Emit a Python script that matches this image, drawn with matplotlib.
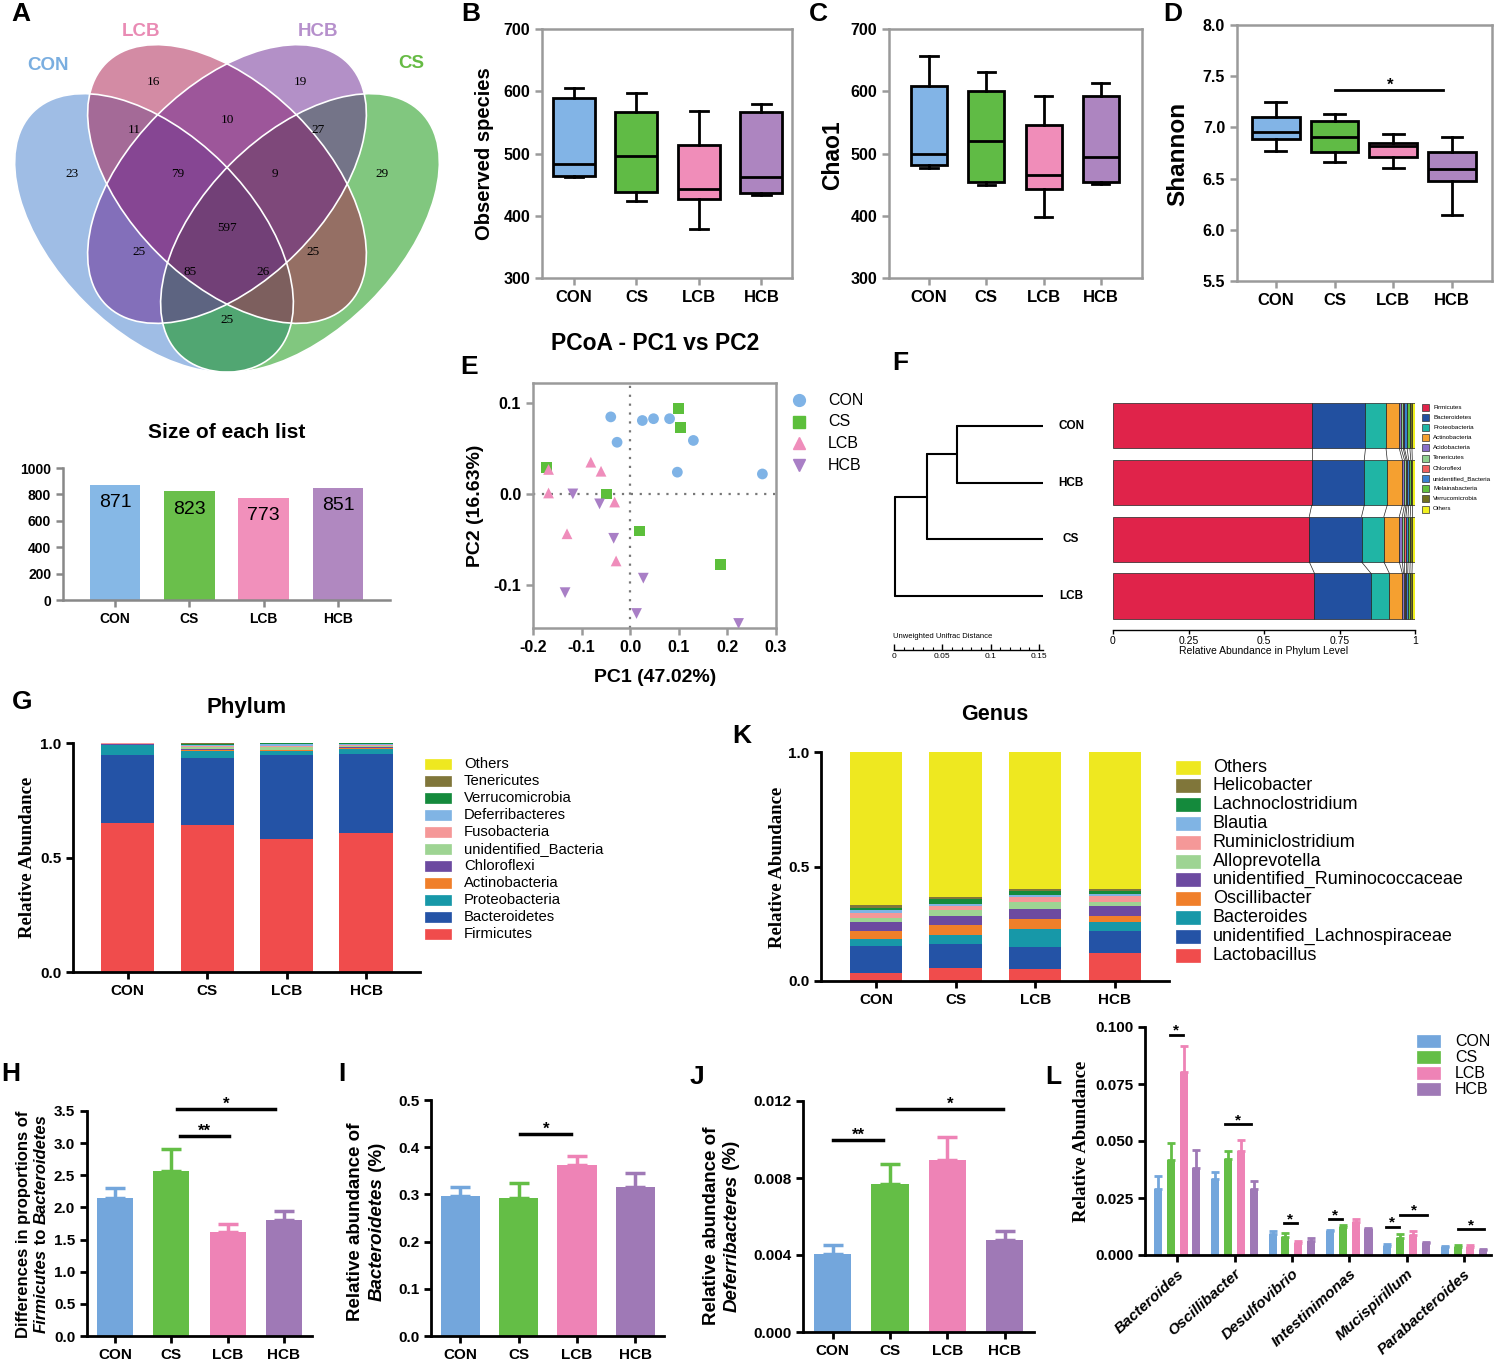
import matplotlib
matplotlib.use('Agg')
import matplotlib.pyplot as plt
from matplotlib.patches import Ellipse, Rectangle
from matplotlib.lines import Line2D
import numpy as np

plt.rcParams['font.family'] = ['Liberation Sans', 'DejaVu Sans']
plt.rcParams['font.weight'] = 'bold'
plt.rcParams['axes.unicode_minus'] = False

W, H = 1497, 1365
fig = plt.figure(figsize=(W / 100, H / 100), dpi=100)

# ---------------- data ----------------
groups = ['CON', 'CS', 'LCB', 'HCB']
grp_col = ['#73a6dc', '#64be46', '#ee83b6', '#9f79b6']
box_col = ['#82b4e6', '#60bb45', '#f08db9', '#ad85c0']
pt_col = ['#7fb3e6', '#5cbf3b', '#ef8dbb', '#a97fc6']

# A - venn
venn_names = ['CON', 'LCB', 'HCB', 'CS']
venn_name_col = ['#7aaee0', '#e98bb4', '#b690cc', '#66bb44']
venn_fill = ['#417dcd', '#a9194b', '#692391', '#059100']
venn_counts = [23, 16, 19, 29, 11, 10, 27, 79, 9, 597, 25, 25, 85, 26, 25]
venn_size = [871, 823, 773, 851]
venn_size_col = ['#86b8e6', '#6abf4b', '#f190bb', '#b088c0']

# B - observed species
obs_max = [606, 597, 569, 580]
obs_q3 = [589, 566, 513, 567]
obs_med = [483, 496, 443, 462]
obs_q1 = [464, 438, 427, 436]
obs_min = [462, 424, 379, 433]
# C - chao1
chao_max = [656, 631, 593, 614]
chao_q3 = [609, 601, 546, 593]
chao_med = [499, 520, 466, 494]
chao_q1 = [481, 455, 443, 455]
chao_min = [476, 449, 398, 451]
# D - shannon
sh_max = [7.245, 7.128, 6.939, 6.903]
sh_q3 = [7.105, 7.066, 6.851, 6.757]
sh_med = [6.952, 6.910, 6.818, 6.597]
sh_q1 = [6.883, 6.763, 6.708, 6.477]
sh_min = [6.766, 6.665, 6.607, 6.145]

# E - PCoA
pc_con_x = [-0.040, -0.027, 0.025, 0.048, 0.081, 0.130, 0.097, 0.272]
pc_con_y = [0.085, 0.057, 0.081, 0.083, 0.083, 0.059, 0.024, 0.022]
pc_cs_x = [0.099, 0.104, -0.173, -0.048, 0.019, 0.186]
pc_cs_y = [0.094, 0.073, 0.029, 0.000, -0.041, -0.078]
pc_lcb_x = [-0.168, -0.168, -0.081, -0.060, -0.032, -0.130, -0.029]
pc_lcb_y = [0.027, 0.001, 0.035, 0.025, -0.009, -0.044, -0.074]
pc_hcb_x = [-0.118, -0.063, -0.034, 0.027, -0.134, 0.013, 0.223]
pc_hcb_y = [0.000, -0.011, -0.049, -0.093, -0.109, -0.132, -0.143]

# F - UPGMA tree + phylum bars
tree_leaves = ['CON', 'HCB', 'CS', 'LCB']
tree_heights = [0.089, 0.120, 0.153]
f_phyla = ['Firmicutes', 'Bacteroidetes', 'Proteobacteria', 'Actinobacteria', 'Acidobacteria',
           'Tenericutes', 'Chloroflexi', 'unidentified_Bacteria', 'Melainabacteria',
           'Verrucomicrobia', 'Others']
f_col = ['#e0234a', '#2250a0', '#20b5a5', '#f5a030', '#8a70c8', '#90d090', '#f06060',
         '#3a80d0', '#60c040', '#707020', '#f0f020']
f_abund = [[0.658, 0.658, 0.650, 0.667],
           [0.178, 0.174, 0.173, 0.187],
           [0.068, 0.076, 0.074, 0.061],
           [0.044, 0.050, 0.051, 0.043],
           [0.006, 0.007, 0.010, 0.004],
           [0.007, 0.005, 0.007, 0.004],
           [0.004, 0.004, 0.005, 0.004],
           [0.009, 0.005, 0.007, 0.006],
           [0.009, 0.007, 0.007, 0.007],
           [0.007, 0.005, 0.007, 0.007],
           [0.010, 0.009, 0.009, 0.010]]

# G - phylum
phyla = ['Firmicutes', 'Bacteroidetes', 'Proteobacteria', 'Actinobacteria', 'Chloroflexi',
         'unidentified_Bacteria', 'Fusobacteria', 'Deferribacteres', 'Verrucomicrobia',
         'Tenericutes', 'Others']
phyla_col = ['#f04c4c', '#2453a6', '#1798a8', '#f07f2a', '#6c4aa0', '#9ed493', '#f59898',
             '#80b4e4', '#148a3c', '#80763a', '#eee820']
phyla_abund = [[0.649, 0.641, 0.580, 0.608],
               [0.300, 0.293, 0.368, 0.344],
               [0.041, 0.029, 0.018, 0.020],
               [0.003, 0.006, 0.003, 0.008],
               [0.001, 0.005, 0.002, 0.003],
               [0.001, 0.008, 0.012, 0.006],
               [0.004, 0.004, 0.003, 0.003],
               [0.0005, 0.007, 0.009, 0.005],
               [0.0005, 0.004, 0.003, 0.001],
               [0.000, 0.002, 0.001, 0.001],
               [0.000, 0.001, 0.001, 0.001]]

# K - genus
genera_k = ['Lactobacillus', 'unidentified_Lachnospiraceae', 'Bacteroides', 'Oscillibacter',
            'unidentified_Ruminococcaceae', 'Alloprevotella', 'Ruminiclostridium', 'Blautia',
            'Lachnoclostridium', 'Helicobacter', 'Others']
genus_abund = [[0.034, 0.057, 0.053, 0.123],
               [0.119, 0.105, 0.096, 0.096],
               [0.029, 0.041, 0.080, 0.039],
               [0.036, 0.041, 0.043, 0.027],
               [0.040, 0.041, 0.043, 0.042],
               [0.019, 0.024, 0.028, 0.020],
               [0.022, 0.018, 0.022, 0.025],
               [0.010, 0.009, 0.010, 0.008],
               [0.011, 0.020, 0.016, 0.013],
               [0.010, 0.009, 0.010, 0.007],
               [0.670, 0.635, 0.599, 0.600]]

# H, I, J
fb_mean = [2.15, 2.57, 1.62, 1.81]
fb_sem = [0.16, 0.34, 0.13, 0.14]
fb_sig = [(1.10, 2.84, 3.53, '*'), (1.15, 2.02, 3.11, '**')]
bact_mean = [0.297, 0.292, 0.362, 0.316]
bact_sem = [0.018, 0.033, 0.020, 0.029]
bact_sig = [(1.03, 1.90, 0.428, '*')]
defer_mean = [0.00405, 0.00770, 0.00892, 0.00476]
defer_sem = [0.00046, 0.00102, 0.00123, 0.00050]
defer_sig = [(0.0, 0.88, 0.00998, '**'), (1.12, 2.97, 0.01159, '*')]

# L - genus comparison
genera_l = ['Bacteroides', 'Oscillibacter', 'Desulfovibrio', 'Intestinimonas',
            'Mucispirillum', 'Parabacteroides']
l_con = [0.0288, 0.0332, 0.0092, 0.0104, 0.0041, 0.0035]
l_cs = [0.0417, 0.0420, 0.0081, 0.0124, 0.0073, 0.0037]
l_lcb = [0.0801, 0.0458, 0.0051, 0.0146, 0.0086, 0.0037]
l_hcb = [0.0381, 0.0288, 0.0063, 0.0114, 0.0051, 0.0022]
l_con_sem = [0.0059, 0.0034, 0.0015, 0.0006, 0.0007, 0.0006]
l_cs_sem = [0.0076, 0.0037, 0.0017, 0.0008, 0.0018, 0.0005]
l_lcb_sem = [0.0114, 0.0047, 0.0010, 0.0011, 0.0019, 0.0005]
l_hcb_sem = [0.0080, 0.0037, 0.0010, 0.0006, 0.0008, 0.0006]
l_sig = [(-0.13, 0.10, 0.0966), (0.84, 1.29, 0.0574), (1.86, 2.09, 0.0139),
         (2.64, 2.87, 0.0157), (3.64, 3.86, 0.0124), (3.89, 4.35, 0.0176),
         (4.89, 5.34, 0.0113)]


# ---------------- helpers ----------------
def fx(x):
    return x / W


def fy(y):
    return 1 - y / H


def px_axes(l, t, r, b):
    return fig.add_axes([l / W, 1 - b / H, (r - l) / W, (b - t) / H])


def letter(s, x, y):
    fig.text(fx(x), fy(y), s, fontsize=19, ha='center', va='center')


def style_grey(ax, fs=11):
    for s in ax.spines.values():
        s.set_color('#9a9a9a')
        s.set_linewidth(1.8)
    ax.tick_params(colors='#9a9a9a', labelcolor='black', width=1.8, length=5, labelsize=fs)


def style_black(ax, fs=11):
    ax.spines['top'].set_visible(False)
    ax.spines['right'].set_visible(False)
    ax.spines['left'].set_linewidth(2)
    ax.spines['bottom'].set_linewidth(2)
    ax.tick_params(width=2, length=5, labelsize=fs)


def box_legend(labels, colors, x_box, y0, dy, bw, bh, x_txt, fs, edge=None):
    for i, (lab, c) in enumerate(zip(labels, colors)):
        y = y0 + i * dy
        fig.add_artist(Rectangle((fx(x_box), fy(y + bh / 2)), bw / W, bh / H, facecolor=c,
                                 edgecolor=edge if edge else c, lw=0.5,
                                 transform=fig.transFigure))
        fig.text(fx(x_txt), fy(y), lab, fontsize=fs, fontweight='normal', va='center')


def rot_label(parts, x, yc, fs):
    r = fig.canvas.get_renderer()
    objs = []
    total = 0
    for s, style in parts:
        t = fig.text(fx(x), 0.5, s, rotation=90, fontsize=fs, style=style,
                     ha='center', va='bottom')
        h = t.get_window_extent(r).height
        objs.append((t, h))
        total += h
    y = yc + total / 2
    for t, h in objs:
        t.set_y(fy(y))
        y -= h


def boxpanel(ax, mx, q3, med, q1, mn, width, capw, ylim, yticks, fs):
    stats = [dict(med=med[i], q1=q1[i], q3=q3[i], whislo=mn[i], whishi=mx[i]) for i in range(4)]
    bp = ax.bxp(stats, positions=range(4), widths=width, capwidths=capw, patch_artist=True,
                showfliers=False, boxprops=dict(linewidth=2, edgecolor='black'),
                whiskerprops=dict(linewidth=2), capprops=dict(linewidth=2),
                medianprops=dict(color='black', linewidth=2))
    for b, c in zip(bp['boxes'], box_col):
        b.set_facecolor(c)
    ax.set_ylim(*ylim)
    ax.set_yticks(yticks)
    style_grey(ax, fs)
    ax.set_xticks(range(4))
    ax.set_xticklabels(groups, fontsize=12)


def errbars(ax, x, mean, sem, colors, width, capsize, lw):
    ax.bar(x, mean, width=width, color=colors)
    for xi, m, s, c in zip(x, mean, sem, colors):
        ax.errorbar(xi, m, yerr=[[0], [s]], fmt='none', ecolor=c, elinewidth=lw,
                    capsize=capsize, capthick=lw)


# ---------------- A: venn ----------------
ax = px_axes(0, 0, 460, 380)
ax.set_xlim(0, 460)
ax.set_ylim(380, 0)
ax.axis('off')
venn_geo = {'CON': (154, 233, 45), 'LCB': (227, 184, 45), 'HCB': (227, 184, 135),
            'CS': (300, 233, 135)}
ell_w, ell_h = 342, 196
for name in ['CON', 'CS', 'LCB', 'HCB']:
    cx, cy, ang = venn_geo[name]
    c = venn_fill[venn_names.index(name)]
    ax.add_patch(Ellipse((cx, cy), ell_w, ell_h, angle=ang, facecolor=c, alpha=0.5,
                         edgecolor='none'))
for name in venn_names:
    cx, cy, ang = venn_geo[name]
    ax.add_patch(Ellipse((cx, cy), ell_w, ell_h, angle=ang, facecolor='none',
                         edgecolor='white', lw=1.2))
venn_xy = [(72, 174), (153, 82), (300, 82), (382, 174), (134, 130), (227, 120), (318, 130),
           (178, 174), (275, 174), (227, 228), (139, 252), (313, 252), (190, 272), (263, 272),
           (227, 320)]
for n, (x, y) in zip(venn_counts, venn_xy):
    ax.text(x, y, str(n), ha='center', va='center', fontsize=9.5, fontweight='normal',
            family='Liberation Serif')
venn_lab_xy = [(48, 66), (141, 31), (318, 31), (411, 63)]
for name, c, (x, y) in zip(venn_names, venn_name_col, venn_lab_xy):
    ax.text(x, y, name, color=c, fontsize=13.5, ha='center', va='center')
letter('A', 21, 14)

# list sizes
ax = px_axes(63, 468, 390, 600)
ax.bar(range(4), venn_size, width=0.68, color=venn_size_col)
for i, v in enumerate(venn_size):
    ax.text(i, v - 70, str(v), ha='center', va='top', fontsize=14, fontweight='normal')
ax.set_xlim(-0.70, 3.70)
ax.set_ylim(0, 1000)
ax.set_yticks(range(0, 1001, 200))
ax.set_xticks(range(4))
ax.set_xticklabels(groups)
ax.spines['top'].set_visible(False)
ax.spines['right'].set_visible(False)
for s in ['left', 'bottom']:
    ax.spines[s].set_color('#888888')
    ax.spines[s].set_linewidth(1.8)
ax.tick_params(colors='#888888', labelcolor='black', width=1.8, length=5, labelsize=10)
fig.text(fx(227), fy(433), 'Size of each list', fontsize=15, ha='center', va='center')

# ---------------- B, C, D ----------------
ax = px_axes(542, 29, 792, 278)
boxpanel(ax, obs_max, obs_q3, obs_med, obs_q1, obs_min, 0.67, 0.3, (300, 700),
         range(300, 701, 100), 11.5)
ax.set_xlim(-0.51, 3.49)
fig.text(fx(485), fy(154), 'Observed species', rotation=90, fontsize=14.5, ha='center', va='center')
letter('B', 471, 14)

ax = px_axes(889, 29, 1142, 278)
boxpanel(ax, chao_max, chao_q3, chao_med, chao_q1, chao_min, 0.63, 0.3, (300, 700),
         range(300, 701, 100), 11.5)
ax.set_xlim(-0.70, 3.72)
fig.text(fx(833), fy(155), 'Chao1', rotation=90, fontsize=16.5, ha='center', va='center')
letter('C', 818, 14)

ax = px_axes(1237, 25, 1492, 281)
boxpanel(ax, sh_max, sh_q3, sh_med, sh_q1, sh_min, 0.81, 0.35, (5.5, 8.0),
         np.arange(5.5, 8.01, 0.5), 11.5)
ax.set_xlim(-0.66, 3.68)
ax.set_yticklabels(['%.1f' % v for v in np.arange(5.5, 8.01, 0.5)])
ax.plot([1.0, 2.85], [7.365, 7.365], color='black', lw=2)
ax.text(1.94, 7.365, '*', ha='center', va='baseline', fontsize=12)
fig.text(fx(1178), fy(154), 'Shannon', rotation=90, fontsize=17.5, ha='center', va='center')
letter('D', 1173, 14)

# ---------------- E: PCoA ----------------
ax = px_axes(533, 383, 776, 628)
ax.axhline(0, color='#777777', ls=(0, (1, 3)), lw=1.6, zorder=1)
ax.axvline(0, color='#777777', ls=(0, (1, 3)), lw=1.6, zorder=1)
pc_sets = [(pc_con_x, pc_con_y, 'o'), (pc_cs_x, pc_cs_y, 's'),
           (pc_lcb_x, pc_lcb_y, '^'), (pc_hcb_x, pc_hcb_y, 'v')]
for (xs, ys, m), c in zip(pc_sets, pt_col):
    ax.scatter(xs, ys, marker=m, s=60, color=c, edgecolors='none', zorder=3)
ax.set_xlim(-0.2, 0.3)
ax.set_ylim(-0.148, 0.1224)
ax.set_xticks([-0.2, -0.1, 0.0, 0.1, 0.2, 0.3])
ax.set_xticklabels(['-0.2', '-0.1', '0.0', '0.1', '0.2', '0.3'])
ax.set_yticks([-0.1, 0.0, 0.1])
ax.set_yticklabels(['-0.1', '0.0', '0.1'])
style_grey(ax, 11.5)
fig.text(fx(655), fy(343), 'PCoA - PC1 vs PC2', fontsize=16.5, ha='center', va='center')
fig.text(fx(655), fy(678), 'PC1 (47.02%)', fontsize=14, ha='center', va='center')
fig.text(fx(475), fy(506), 'PC2 (16.63%)', rotation=90, fontsize=14, ha='center', va='center')
for i, (g, c, m) in enumerate(zip(groups, pt_col, ['o', 's', '^', 'v'])):
    y = 400 + i * 21.7
    fig.add_artist(Line2D([fx(799)], [fy(y)], marker=m, color=c, markersize=8.5, ls='none',
                          transform=fig.transFigure))
    fig.text(fx(828), fy(y), g, fontsize=11.5, fontweight='normal', va='center')
letter('E', 469, 367)

# ---------------- F: tree + bars ----------------
ax = px_axes(893, 398, 1043, 630)
ax.set_xlim(0.155, 0)
ax.set_ylim(3.6, -0.49)
ax.axis('off')
h1, h2, h3 = tree_heights
ylv = list(range(4))
segs = [([0, h1], [ylv[0]] * 2), ([0, h1], [ylv[1]] * 2), ([h1, h1], [ylv[0], ylv[1]]),
        ([h1, h2], [0.5, 0.5]), ([0, h2], [ylv[2]] * 2), ([h2, h2], [0.5, ylv[2]]),
        ([h2, h3], [1.25, 1.25]), ([0, h3], [ylv[3]] * 2), ([h3, h3], [1.25, ylv[3]])]
for xs, ys in segs:
    ax.plot(xs, ys, color='black', lw=1.5, solid_capstyle='round')
for i, name in enumerate(tree_leaves):
    ax.text(-0.029, i, name, ha='center', va='center', fontsize=8.5, clip_on=False)

ax = px_axes(894, 645, 1043, 650)
ax.set_xlim(0, 0.154)
for s in ['top', 'right', 'left']:
    ax.spines[s].set_visible(False)
ax.spines['bottom'].set_linewidth(1)
ax.set_yticks([])
ax.set_xticks([0, 0.05, 0.1, 0.15])
ax.set_xticklabels(['0', '0.05', '0.1', '0.15'])
ax.set_xticks(np.arange(0, 0.155, 0.01), minor=True)
ax.tick_params(axis='x', direction='in', length=4, width=1, labelsize=6, pad=2)
ax.tick_params(axis='x', which='minor', direction='in', length=2, width=0.8)
for t in ax.get_xticklabels():
    t.set_fontweight('normal')
fig.text(fx(893), fy(637), 'Unweighted Unifrac Distance', fontsize=5.5, fontweight='normal',
         ha='left', va='center')

ax = px_axes(1113, 398, 1415, 630)
fa = np.array(f_abund)
cum = np.zeros(4)
for j, (name, c) in enumerate(zip(f_phyla, f_col)):
    ax.barh(range(4), fa[j], left=cum, height=0.8, color=c, edgecolor='#222222', lw=0.5)
    cum = cum + fa[j]
    for k in range(3):
        ax.plot([cum[k], cum[k + 1]], [k + 0.4, k + 0.6], color='#222222', lw=0.5)
ax.set_xlim(0, 1)
ax.set_ylim(3.6, -0.49)
for s in ['top', 'right', 'left']:
    ax.spines[s].set_visible(False)
ax.spines['bottom'].set_linewidth(1)
ax.set_yticks([])
ax.set_xticks([0, 0.25, 0.5, 0.75, 1])
ax.set_xticklabels(['0', '0.25', '0.5', '0.75', '1'])
ax.tick_params(axis='x', length=3, width=1, labelsize=7.5, pad=1)
for t in ax.get_xticklabels():
    t.set_fontweight('normal')
ax.set_xlabel('Relative Abundance in Phylum Level', fontsize=7.5, fontweight='normal',
              labelpad=0)
box_legend(f_phyla, f_col, 1422, 407, 10.2, 7, 7, 1433, 4.5, edge='#333333')
letter('F', 900, 363)

# ---------------- G: phylum ----------------
ax = px_axes(73, 743, 420, 972)
pa = np.array(phyla_abund)
cum = np.zeros(4)
for j, c in enumerate(phyla_col):
    ax.bar(range(4), pa[j], bottom=cum, width=0.67, color=c)
    cum = cum + pa[j]
ax.set_xlim(-0.69, 3.68)
ax.set_ylim(0, 1)
ax.set_yticks([0, 0.5, 1.0])
ax.set_yticklabels(['0.0', '0.5', '1.0'])
ax.set_xticks(range(4))
ax.set_xticklabels(groups)
style_black(ax, 11)
fig.text(fx(28), fy(857), 'Relative Abundance', rotation=90, fontsize=13.5,
         family='Liberation Serif', ha='center', va='center')
fig.text(fx(247), fy(707), 'Phylum', fontsize=16, ha='center', va='center')
box_legend(phyla[::-1], phyla_col[::-1], 425, 764, 17, 26, 10, 464, 10.7)
letter('G', 22, 702)

# ---------------- K: genus ----------------
ax = px_axes(821, 752, 1169, 981)
ga = np.array(genus_abund)
cum = np.zeros(4)
for j, c in enumerate(phyla_col):
    ax.bar(range(4), ga[j], bottom=cum, width=0.66, color=c)
    cum = cum + ga[j]
ax.set_xlim(-0.69, 3.68)
ax.set_ylim(0, 1)
ax.set_yticks([0, 0.5, 1.0])
ax.set_yticklabels(['0.0', '0.5', '1.0'])
ax.set_xticks(range(4))
ax.set_xticklabels(groups)
style_black(ax, 11)
fig.text(fx(777), fy(867), 'Relative Abundance', rotation=90, fontsize=13.5,
         family='Liberation Serif', ha='center', va='center')
fig.text(fx(995), fy(715), 'Genus', fontsize=15.5, ha='center', va='center')
box_legend(genera_k[::-1], phyla_col[::-1], 1176, 767, 18.8, 24, 13, 1213, 13)
letter('K', 742, 736)

# ---------------- H ----------------
ax = px_axes(87, 1111, 312, 1336)
errbars(ax, range(4), fb_mean, fb_sem, grp_col, 0.64, 7.5, 2.5)
for x1, x2, y, s in fb_sig:
    ax.plot([x1, x2], [y, y], color='black', lw=2.5, clip_on=False)
    ax.text((x1 + x2) / 2, y, s, ha='center', va='baseline', fontsize=12, clip_on=False)
ax.set_xlim(-0.5, 3.5)
ax.set_ylim(0, 3.5)
ax.set_yticks(np.arange(0, 3.51, 0.5))
ax.set_yticklabels(['%.1f' % v for v in np.arange(0, 3.51, 0.5)])
ax.set_xticks(range(4))
ax.set_xticklabels(groups)
style_black(ax, 11)
rot_label([('Differences in proportions of', 'normal')], 24, 1224, 12)
rot_label([('Firmicutes', 'italic'), (' to ', 'normal'), ('Bacteroidetes', 'italic')], 41, 1224, 12)
letter('H', 11, 1074)

# ---------------- I ----------------
ax = px_axes(431, 1100, 664, 1336)
errbars(ax, range(4), bact_mean, bact_sem, grp_col, 0.67, 7.5, 2.5)
for x1, x2, y, s in bact_sig:
    ax.plot([x1, x2], [y, y], color='black', lw=2.5)
    ax.text((x1 + x2) / 2, y, s, ha='center', va='baseline', fontsize=12)
ax.set_xlim(-0.5, 3.49)
ax.set_ylim(0, 0.5)
ax.set_yticks(np.arange(0, 0.51, 0.1))
ax.set_yticklabels(['%.1f' % v for v in np.arange(0, 0.51, 0.1)])
ax.set_xticks(range(4))
ax.set_xticklabels(groups)
style_black(ax, 11)
rot_label([('Relative abundance of', 'normal')], 355, 1222, 13.5)
rot_label([('Bacteroidetes', 'italic'), (' (%)', 'normal')], 377, 1222, 13.5)
letter('I', 342, 1074)

# ---------------- J ----------------
ax = px_axes(803, 1101, 1034, 1332)
errbars(ax, range(4), defer_mean, defer_sem, grp_col, 0.65, 7.5, 2.5)
for x1, x2, y, s in defer_sig:
    ax.plot([x1, x2], [y, y], color='black', lw=2.5)
    ax.text((x1 + x2) / 2, y, s, ha='center', va='baseline', fontsize=12)
ax.set_xlim(-0.52, 3.51)
ax.set_ylim(0, 0.012)
ax.set_yticks(np.arange(0, 0.0121, 0.004))
ax.set_yticklabels(['%.3f' % v for v in np.arange(0, 0.0121, 0.004)])
ax.set_xticks(range(4))
ax.set_xticklabels(groups)
style_black(ax, 11)
rot_label([('Relative abundance of', 'normal')], 711, 1226, 13.5)
rot_label([('Deferribacteres', 'italic'), (' (%)', 'normal')], 732, 1226, 13.5)
letter('J', 697, 1077)

# ---------------- L ----------------
ax = px_axes(1145, 1027, 1491, 1255)
xg = np.arange(len(genera_l))
offs = [-0.335, -0.112, 0.112, 0.335]
l_means = [l_con, l_cs, l_lcb, l_hcb]
l_sems = [l_con_sem, l_cs_sem, l_lcb_sem, l_hcb_sem]
for k in range(4):
    errbars(ax, xg + offs[k], l_means[k], l_sems[k], [grp_col[k]] * len(genera_l), 0.14, 3,
            2)
for x1, x2, y in l_sig:
    ax.plot([x1, x2], [y, y], color='black', lw=2)
    ax.text((x1 + x2) / 2, y, '*', ha='center', va='baseline', fontsize=11)
ax.set_xlim(-0.56, 5.47)
ax.set_ylim(0, 0.1)
ax.set_yticks(np.arange(0, 0.101, 0.025))
ax.set_yticklabels(['%.3f' % v for v in np.arange(0, 0.101, 0.025)])
ax.set_xticks(xg)
ax.set_xticklabels(genera_l, rotation=42, ha='right', va='top', rotation_mode='anchor',
                   style='italic', fontsize=12.5)
style_black(ax, 11)
fig.text(fx(1081), fy(1141), 'Relative Abundance', rotation=90, fontsize=13.5,
         family='Liberation Serif', ha='center', va='center')
box_legend(groups, grp_col, 1417, 1041, 16, 23, 12, 1455, 11.5)
letter('L', 1053, 1077)

fig.savefig('out.png', dpi=100, facecolor='white')
